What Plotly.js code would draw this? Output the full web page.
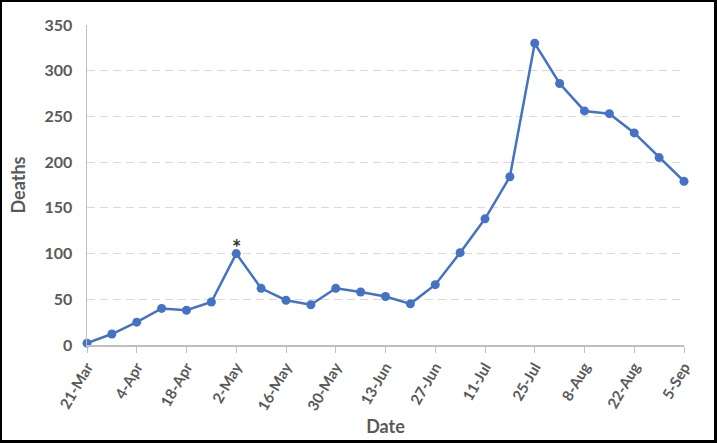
<!DOCTYPE html>
<html>
<head>
<meta charset="utf-8">
<script src="https://cdn.plot.ly/plotly-3.0.1.min.js"></script>
<style>
html,body{margin:0;padding:0;background:#fff;}
#wrap{width:717px;height:443px;box-sizing:border-box;border-style:solid;border-color:#000;border-width:2px 3px 3px 2px;}
#chart{width:712px;height:438px;}
</style>
</head>
<body>
<div id="wrap"><div id="chart"></div></div>
<script>
const dates = ["21-Mar","28-Mar","4-Apr","11-Apr","18-Apr","25-Apr","2-May","9-May","16-May","23-May","30-May","6-Jun","13-Jun","20-Jun","27-Jun","4-Jul","11-Jul","18-Jul","25-Jul","1-Aug","8-Aug","15-Aug","22-Aug","29-Aug","5-Sep"];
const deaths = [2,12,25,40,38,47,100,62,49,44,62,58,53,45,66,101,138,184,330,286,256,253,232,205,179];
const tickLabels = ["21-Mar","4-Apr","18-Apr","2-May","16-May","30-May","13-Jun","27-Jun","11-Jul","25-Jul","8-Aug","22-Aug","5-Sep"];
const markedDate = "2-May";
const markedValue = 100;

const textColor = "#595959";
const fontFam = "Lato, 'Open Sans', sans-serif";

Plotly.newPlot("chart", [{
  x: dates, y: deaths, type: "scatter", mode: "lines+markers",
  line: {color: "#4472C4", width: 2.5},
  marker: {color: "#4472C4", size: 9},
  cliponaxis: false,
  hoverinfo: "skip"
}], {
  width: 712, height: 438,
  margin: {l: 85, r: 30, t: 23, b: 95},
  paper_bgcolor: "#fff", plot_bgcolor: "#fff",
  showlegend: false,
  font: {family: fontFam, color: textColor, size: 15},
  xaxis: {
    type: "category", range: [0, dates.length - 1],
    tickmode: "array", tickvals: tickLabels, ticktext: tickLabels,
    tickangle: -60, ticks: "outside", ticklen: 6, tickcolor: "#bfbfbf",
    showline: true, linecolor: "#bfbfbf", linewidth: 1.5,
    showgrid: false, zeroline: false,
    tickfont: {family: fontFam, size: 15, color: textColor, weight: "bold"},
    title: {text: "<b>Date</b>", font: {family: fontFam, size: 18, color: textColor}, standoff: 8}
  },
  yaxis: {
    range: [0, 350], dtick: 50, tick0: 0,
    showline: true, linecolor: "#bfbfbf", linewidth: 1.5,
    showgrid: true, gridcolor: "#dadada", griddash: "8px,5px", gridwidth: 1.2,
    zeroline: false, ticks: "", ticklabelstandoff: 10,
    tickfont: {family: fontFam, size: 16, color: textColor, weight: "bold"},
    title: {text: "<b>Deaths</b>", font: {family: fontFam, size: 18, color: textColor}, standoff: 14}
  },
  annotations: [{
    x: markedDate, y: markedValue, xref: "x", yref: "y",
    text: "<b>*</b>", showarrow: false, yshift: 6,
    font: {family: fontFam, size: 22, color: "#333"}
  }]
}, {staticPlot: true});
</script>
</body>
</html>
